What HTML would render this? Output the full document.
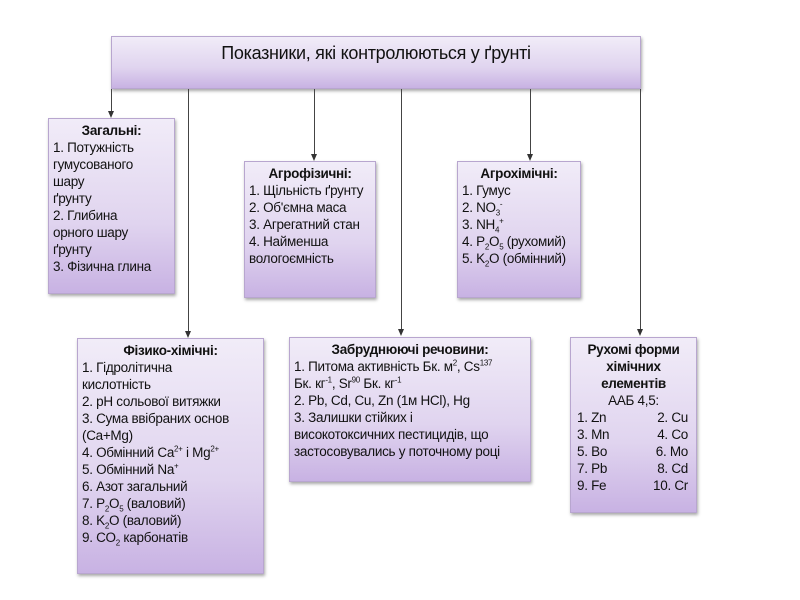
<!DOCTYPE html>
<html><head><meta charset="utf-8"><style>
body{margin:0;width:800px;height:600px;background:#fff;position:relative;overflow:hidden;font-family:"Liberation Sans",Arial,sans-serif;color:#111}
.b{position:absolute;box-sizing:border-box;border:1px solid #b8a6cf;background:linear-gradient(#f1ecf8,#e0d4ef 60%,#c8b2e3);box-shadow:1px 2px 3px rgba(0,0,0,.35);font-size:13.5px;line-height:17px;padding:3px 4px;letter-spacing:-0.3px}
.t{text-align:center;font-weight:bold}
.l{position:absolute;background:#444;width:1px}
.a{position:absolute;width:0;height:0;border-left:3px solid transparent;border-right:3px solid transparent;border-top:7px solid #333}
sub,sup{font-size:8px;line-height:0}
.g{display:flex;justify-content:space-between;padding:0 4px 0 2px}
</style></head><body>
<div class="b" style="left:111px;top:36px;width:530px;height:53px;font-size:18px;text-align:center;padding-top:5px;line-height:22px">Показники, які контролюються у ґрунті</div>

<div class="l" style="left:111px;top:89px;height:22px"></div><div class="a" style="left:108px;top:111px"></div>
<div class="l" style="left:188px;top:89px;height:242px"></div><div class="a" style="left:185px;top:331px"></div>
<div class="l" style="left:314px;top:89px;height:66px"></div><div class="a" style="left:311px;top:154px"></div>
<div class="l" style="left:401px;top:89px;height:240px"></div><div class="a" style="left:398px;top:329px"></div>
<div class="l" style="left:530px;top:89px;height:66px"></div><div class="a" style="left:527px;top:154px"></div>
<div class="l" style="left:640px;top:89px;height:240px"></div><div class="a" style="left:637px;top:329px"></div>

<div class="b" style="left:48px;top:118px;width:127px;height:176px"><div class="t">Загальні:</div>1. Потужність<br>гумусованого<br>шару<br>ґрунту<br>2. Глибина<br>орного шару<br>ґрунту<br>3. Фізична глина</div>

<div class="b" style="left:244px;top:161px;width:132px;height:137px"><div class="t">Агрофізичні:</div>1. Щільність ґрунту<br>2. Об'ємна маса<br>3. Агрегатний стан<br>4. Найменша<br>вологоємність</div>

<div class="b" style="left:457px;top:161px;width:124px;height:137px"><div class="t">Агрохімічні:</div>1. Гумус<br>2. NO<sub>3</sub><sup>-</sup><br>3. NH<sub>4</sub><sup>+</sup><br>4. P<sub>2</sub>O<sub>5</sub> (рухомий)<br>5. K<sub>2</sub>O (обмінний)</div>

<div class="b" style="left:77px;top:338px;width:187px;height:236px"><div class="t">Фізико-хімічні:</div>1. Гідролітична<br>кислотність<br>2. pH сольової витяжки<br>3. Сума ввібраних основ<br>(Ca+Mg)<br>4. Обмінний Ca<sup>2+</sup> і Mg<sup>2+</sup><br>5. Обмінний Na<sup>+</sup><br>6. Азот загальний<br>7. P<sub>2</sub>O<sub>5</sub> (валовий)<br>8. K<sub>2</sub>O (валовий)<br>9. CO<sub>2</sub> карбонатів</div>

<div class="b" style="left:289px;top:337px;width:242px;height:145px"><div class="t">Забруднюючі речовини:</div>1. Питома активність Бк. м<sup>2</sup>, Cs<sup>137</sup><br>Бк. кг<sup>-1</sup>, Sr<sup>90</sup> Бк. кг<sup>-1</sup><br>2. Pb, Cd, Cu, Zn (1м HCl), Hg<br>3. Залишки стійких і<br>високотоксичних пестицидів, що<br>застосовувались у поточному році</div>

<div class="b" style="left:570px;top:337px;width:127px;height:176px"><div class="t">Рухомі форми<br>хімічних<br>елементів</div><div style="text-align:center">ААБ 4,5:</div><div class="g"><span>1. Zn</span><span>2. Cu</span></div><div class="g"><span>3. Mn</span><span>4. Co</span></div><div class="g"><span>5. Bo</span><span>6. Mo</span></div><div class="g"><span>7. Pb</span><span>8. Cd</span></div><div class="g"><span>9. Fe</span><span>10. Cr</span></div></div>
</body></html>
